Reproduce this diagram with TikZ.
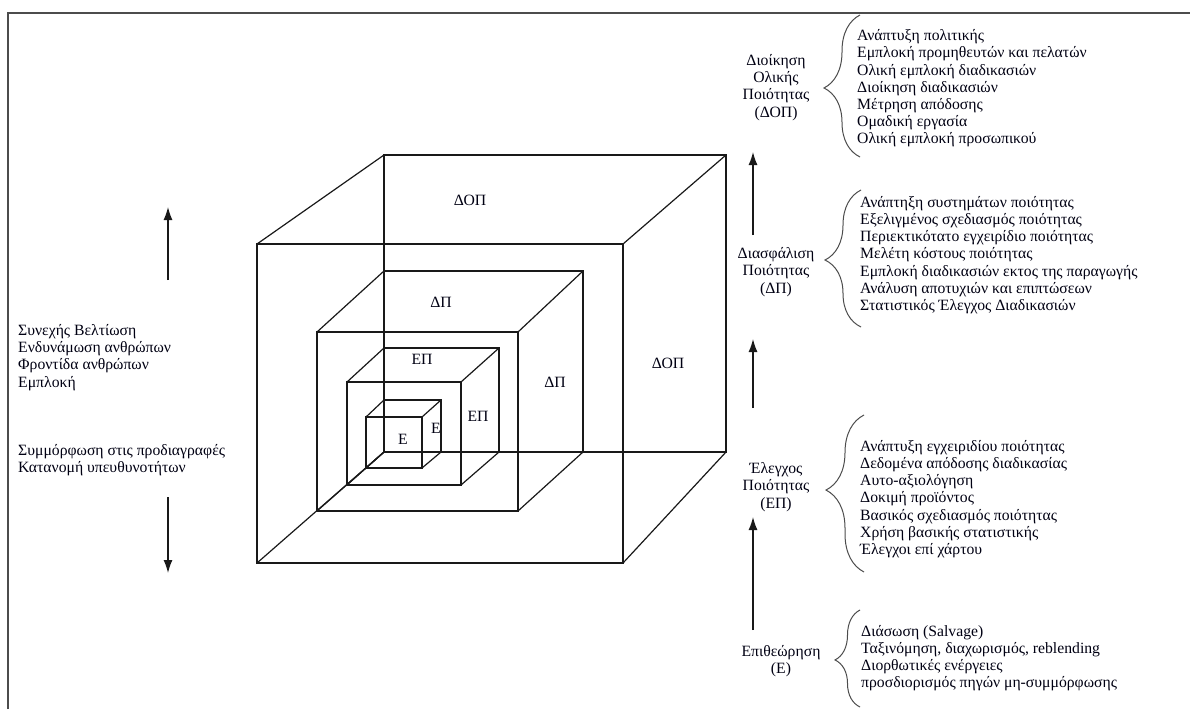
\documentclass[tikz,border=0pt]{standalone}
\usepackage{fontspec}
\setmainfont{Liberation Serif}
\usetikzlibrary{arrows.meta,decorations.pathreplacing}
\newcommand\mycube[8]{%
  \draw[cubeline] (#1,#2) rectangle (#3,#4);
  \draw[cubeline] (#5,#6) rectangle (#7,#8);
  \draw[cubeline] (#1,#2) -- (#5,#6) (#3,#2) -- (#7,#6) (#3,#4) -- (#7,#8) (#1,#4) -- (#5,#8);
}
\begin{document}
\begin{tikzpicture}[x=1pt,y=-1pt,
  cubeline/.style={line width=1.2pt, line join=miter, black!90},
  txtfont/.style={font=\fontsize{15.7}{17.2}\selectfont, text=black!90!blue!70!black},
  lbl/.style={txtfont, inner sep=0pt},
  items/.style={txtfont, align=left, inner sep=0pt, anchor=west},
  ttl/.style={txtfont, align=center, inner sep=0pt},
  arr/.style={line width=1.3pt, black!90, -{Latex[length=13pt,width=9pt]}},
  bracepath/.style={line width=1pt, black!70, decorate, decoration={brace, amplitude=#1}},
]
\useasboundingbox (0,0) rectangle (1190,709);
% frame
\draw[line width=2pt, black!70] (8,709) -- (8,13) -- (1190,13);

% cubes
\mycube{257}{244}{623}{563}{384}{155}{726}{452}
\mycube{317}{332}{518}{511}{384}{271}{583}{452}
\mycube{347}{382}{461}{485}{384}{348}{499}{452}
\mycube{366}{417}{422}{468}{384}{400}{441}{452}

% cube labels
\node[lbl] (dopTop) at (470,200) {ΔΟΠ};
\node[lbl] (dopSide) at (668,363) {ΔΟΠ};
\node[lbl] (dpTop) at (441,302) {ΔΠ};
\node[lbl] (dpSide) at (555,382) {ΔΠ};
\node[lbl] (epTop) at (422,359) {ΕΠ};
\node[lbl] (epSide) at (478,416) {ΕΠ};
\node[lbl] (eFront) at (403,439) {Ε};
\node[lbl] (eSide) at (436,428) {Ε};

% left texts
\node[items] (leftUp) at (18,357.5) {Συνεχής Βελτίωση\\Ενδυνάμωση ανθρώπων\\Φροντίδα ανθρώπων\\Εμπλοκή};
\node[items] (leftDown) at (18,460) {Συμμόρφωση στις προδιαγραφές\\Κατανομή υπευθυνοτήτων};
\coordinate (luA) at (168,280);
\coordinate (luB) at (168,207);
\coordinate (ldA) at (168,497);
\coordinate (ldB) at (168,573);
\draw[arr] (luA) -- (luB);
\draw[arr] (ldA) -- (ldB);

% right column titles
\node[ttl] (tDOP) at (776,87.5) {Διοίκηση\\Ολικής\\Ποιότητας\\(ΔΟΠ)};
\node[ttl] (tDP) at (776,272) {Διασφάλιση\\Ποιότητας\\(ΔΠ)};
\node[ttl] (tEP) at (776,487) {Έλεγχος\\Ποιότητας\\(ΕΠ)};
\node[ttl] (tE) at (781,661) {Επιθεώρηση\\(Ε)};

% arrows between levels
\coordinate (a1s) at (753,235);
\coordinate (a1e) at (753,152);
\coordinate (a2s) at (753,408);
\coordinate (a2e) at (753,339);
\coordinate (a3s) at (753,630);
\coordinate (a3e) at (753,517);
\draw[arr] (a1s) -- (a1e);
\draw[arr] (a2s) -- (a2e);
\draw[arr] (a3s) -- (a3e);

% braces
\coordinate (b1s) at (860,157); \coordinate (b1e) at (860,15);
\coordinate (b2s) at (861,327); \coordinate (b2e) at (861,190);
\coordinate (b3s) at (864,572); \coordinate (b3e) at (864,415);
\coordinate (b4s) at (860,707); \coordinate (b4e) at (860,610);
\draw[bracepath=36pt, decoration={aspect=0.486}] (b1s) -- (b1e);
\draw[bracepath=36pt, decoration={aspect=0.489}] (b2s) -- (b2e);
\draw[bracepath=38pt, decoration={aspect=0.522}] (b3s) -- (b3e);
\draw[bracepath=25pt, decoration={aspect=0.485}] (b4s) -- (b4e);

% item lists
\node[items] (iDOP) at (857,88.5) {Ανάπτυξη πολιτικής\\Εμπλοκή προμηθευτών και πελατών\\Ολική εμπλοκή διαδικασιών\\Διοίκηση διαδικασιών\\Μέτρηση απόδοσης\\Ομαδική εργασία\\Ολική εμπλοκή προσωπικού};
\node[items] (iDP) at (860,255) {Ανάπτηξη συστημάτων ποιότητας\\Εξελιγμένος σχεδιασμός ποιότητας\\Περιεκτικότατο εγχειρίδιο ποιότητας\\Μελέτη κόστους ποιότητας\\Εμπλοκή διαδικασιών εκτος της παραγωγής\\Ανάλυση αποτυχιών και επιπτώσεων\\Στατιστικός Έλεγχος Διαδικασιών};
\node[items] (iEP) at (860,499) {Ανάπτυξη εγχειριδίου ποιότητας\\Δεδομένα απόδοσης διαδικασίας\\Αυτο-αξιολόγηση\\Δοκιμή προϊόντος\\Βασικός σχεδιασμός ποιότητας\\Χρήση βασικής στατιστικής\\Έλεγχοι επί χάρτου};
\node[items] (iE) at (861,658) {Διάσωση (Salvage)\\Ταξινόμηση, διαχωρισμός, reblending\\Διορθωτικές ενέργειες\\προσδιορισμός πηγών μη-συμμόρφωσης};
\end{tikzpicture}
\end{document}
